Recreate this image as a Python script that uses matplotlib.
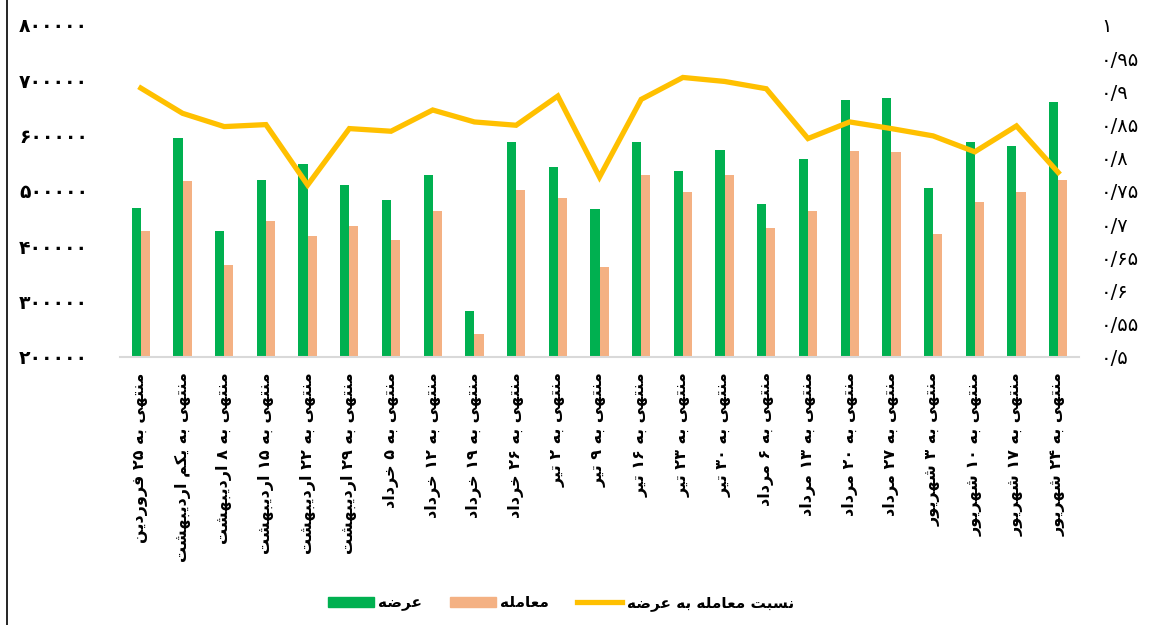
import matplotlib
matplotlib.use("Agg")
import matplotlib.pyplot as plt
import numpy as np
from matplotlib.lines import Line2D
from matplotlib.patches import Patch

# weekly data
weeks = [
    "منتهی به ۲۵ فروردین", "منتهی به یکم اردیبهشت", "منتهی به ۸ اردیبهشت",
    "منتهی به ۱۵ اردیبهشت", "منتهی به ۲۲ اردیبهشت", "منتهی به ۲۹ اردیبهشت",
    "منتهی به ۵ خرداد", "منتهی به ۱۲ خرداد", "منتهی به ۱۹ خرداد",
    "منتهی به ۲۶ خرداد", "منتهی به ۲ تیر", "منتهی به ۹ تیر",
    "منتهی به ۱۶ تیر", "منتهی به ۲۳ تیر", "منتهی به ۳۰ تیر",
    "منتهی به ۶ مرداد", "منتهی به ۱۳ مرداد", "منتهی به ۲۰ مرداد",
    "منتهی به ۲۷ مرداد", "منتهی به ۳ شهریور", "منتهی به ۱۰ شهریور",
    "منتهی به ۱۷ شهریور", "منتهی به ۲۴ شهریور",
]
supply = [470000, 595000, 428000, 519000, 549000, 511000, 484000, 529000,
          283000, 588000, 543000, 467000, 588000, 537000, 574000, 477000,
          557000, 665000, 668000, 505000, 589000, 582000, 661000]
deals = [428000, 518000, 366000, 445000, 419000, 436000, 412000, 464000,
         242000, 502000, 488000, 363000, 529000, 498000, 529000, 433000,
         464000, 572000, 571000, 422000, 481000, 498000, 519000]
ratio = [0.905, 0.867, 0.847, 0.850, 0.759, 0.844, 0.840, 0.872,
         0.854, 0.849, 0.893, 0.771, 0.888, 0.921, 0.915, 0.904,
         0.829, 0.854, 0.844, 0.833, 0.809, 0.848, 0.778]
left_ticks = [200000, 300000, 400000, 500000, 600000, 700000, 800000]
right_ticks = [0.5, 0.55, 0.6, 0.65, 0.7, 0.75, 0.8, 0.85, 0.9, 0.95, 1.0]

legend_names = ["عرضه", "معامله", "نسبت معامله به عرضه"]

GREEN = "#00B050"
ORANGE = "#F4B183"
YELLOW = "#FFC000"

# --- minimal Persian shaping (matplotlib has no shaping/bidi) ---
FORMS = {
    "ا": ("\uFE8D", "\uFE8E", None, None),
    "ب": ("\uFE8F", "\uFE90", "\uFE91", "\uFE92"),
    "ت": ("\uFE95", "\uFE96", "\uFE97", "\uFE98"),
    "خ": ("\uFEA5", "\uFEA6", "\uFEA7", "\uFEA8"),
    "د": ("\uFEA9", "\uFEAA", None, None),
    "ر": ("\uFEAD", "\uFEAE", None, None),
    "ز": ("\uFEAF", "\uFEB0", None, None),
    "س": ("\uFEB1", "\uFEB2", "\uFEB3", "\uFEB4"),
    "ش": ("\uFEB5", "\uFEB6", "\uFEB7", "\uFEB8"),
    "ض": ("\uFEBD", "\uFEBE", "\uFEBF", "\uFEC0"),
    "ع": ("\uFEC9", "\uFECA", "\uFECB", "\uFECC"),
    "ف": ("\uFED1", "\uFED2", "\uFED3", "\uFED4"),
    "ل": ("\uFEDD", "\uFEDE", "\uFEDF", "\uFEE0"),
    "م": ("\uFEE1", "\uFEE2", "\uFEE3", "\uFEE4"),
    "ن": ("\uFEE5", "\uFEE6", "\uFEE7", "\uFEE8"),
    "ه": ("\uFEE9", "\uFEEA", "\uFEEB", "\uFEEC"),
    "و": ("\uFEED", "\uFEEE", None, None),
    "ک": ("\uFB8E", "\uFB8F", "\uFB90", "\uFB91"),
    "ی": ("\uFBFC", "\uFBFD", "\uFBFE", "\uFBFF"),
}


def dual(c):
    return c in FORMS and FORMS[c][2] is not None


def shape_word(w):
    out = []
    for i, c in enumerate(w):
        if c not in FORMS:
            out.append(c)
            continue
        prev = i > 0 and dual(w[i - 1])
        nxt = dual(c) and i + 1 < len(w) and w[i + 1] in FORMS
        iso, fin, ini, med = FORMS[c]
        if prev and nxt:
            out.append(med)
        elif prev:
            out.append(fin)
        elif nxt:
            out.append(ini)
        else:
            out.append(iso)
    return "".join(out)


def fa(text):
    words = text.split(" ")
    vis = []
    for w in reversed(words):
        if all(c in FORMS for c in w):
            vis.append(shape_word(w)[::-1])
        else:
            vis.append(w)
    return " ".join(vis)


def fa_num(s):
    return s.translate(str.maketrans("0123456789.", "۰۱۲۳۴۵۶۷۸۹/"))


plt.rcParams["font.family"] = ["DejaVu Sans"]

fig = plt.figure(figsize=(11.71, 6.25), dpi=100)
ax = fig.add_axes([120 / 1171, 1 - 357 / 625, 959 / 1171, 332 / 625])
ax2 = ax.twinx()

x = np.arange(len(weeks))
w = 0.22
ax.bar(x - w / 2, supply, width=w, color=GREEN, zorder=2)
ax.bar(x + w / 2, deals, width=w, color=ORANGE, zorder=2)
ax2.plot(x, ratio, color=YELLOW, lw=3.8, solid_joinstyle="miter", zorder=3)

ax.set_xlim(-0.5, len(weeks) - 0.5)
ax.set_ylim(200000, 800000)
ax2.set_ylim(0.5, 1.0)

ax.set_yticks(left_ticks)
ax.set_yticklabels([fa_num(str(v)) for v in left_ticks], fontsize=13.5, fontweight="bold")
ax2.set_yticks(right_ticks)
ax2.set_yticklabels([fa_num(f"{v:g}") for v in right_ticks], fontsize=14)

ax.set_xticks(x)
ax.set_xticklabels([fa(s) for s in weeks], rotation=90, va="top", ha="center",
                   fontsize=11.5, fontweight="bold")

ax.tick_params(axis="x", length=0, pad=11)
ax.tick_params(axis="y", length=0, pad=23)
ax2.tick_params(axis="y", length=0, pad=16)

for a in (ax, ax2):
    for side in ("top", "left", "right", "bottom"):
        a.spines[side].set_visible(False)
ax.spines["bottom"].set_visible(True)
ax.spines["bottom"].set_color("#D9D9D9")
ax.spines["bottom"].set_linewidth(1.5)

handles = [
    Patch(color=GREEN),
    Patch(color=ORANGE),
    Line2D([0], [0], color=YELLOW, lw=3.8),
]
fig.legend(handles, [fa(n) for n in legend_names], loc="center", ncol=3,
           bbox_to_anchor=(561 / 1171, 1 - 603 / 625), frameon=False,
           prop={"size": 11, "weight": "bold"}, handlelength=3.0,
           handleheight=0.6, handletextpad=0.3, columnspacing=1.8)

# left border of the original screenshot
fig.add_artist(Line2D([7 / 1171, 7 / 1171], [0, 1], color="black", lw=1.2))

fig.savefig("out.png", dpi=100)
